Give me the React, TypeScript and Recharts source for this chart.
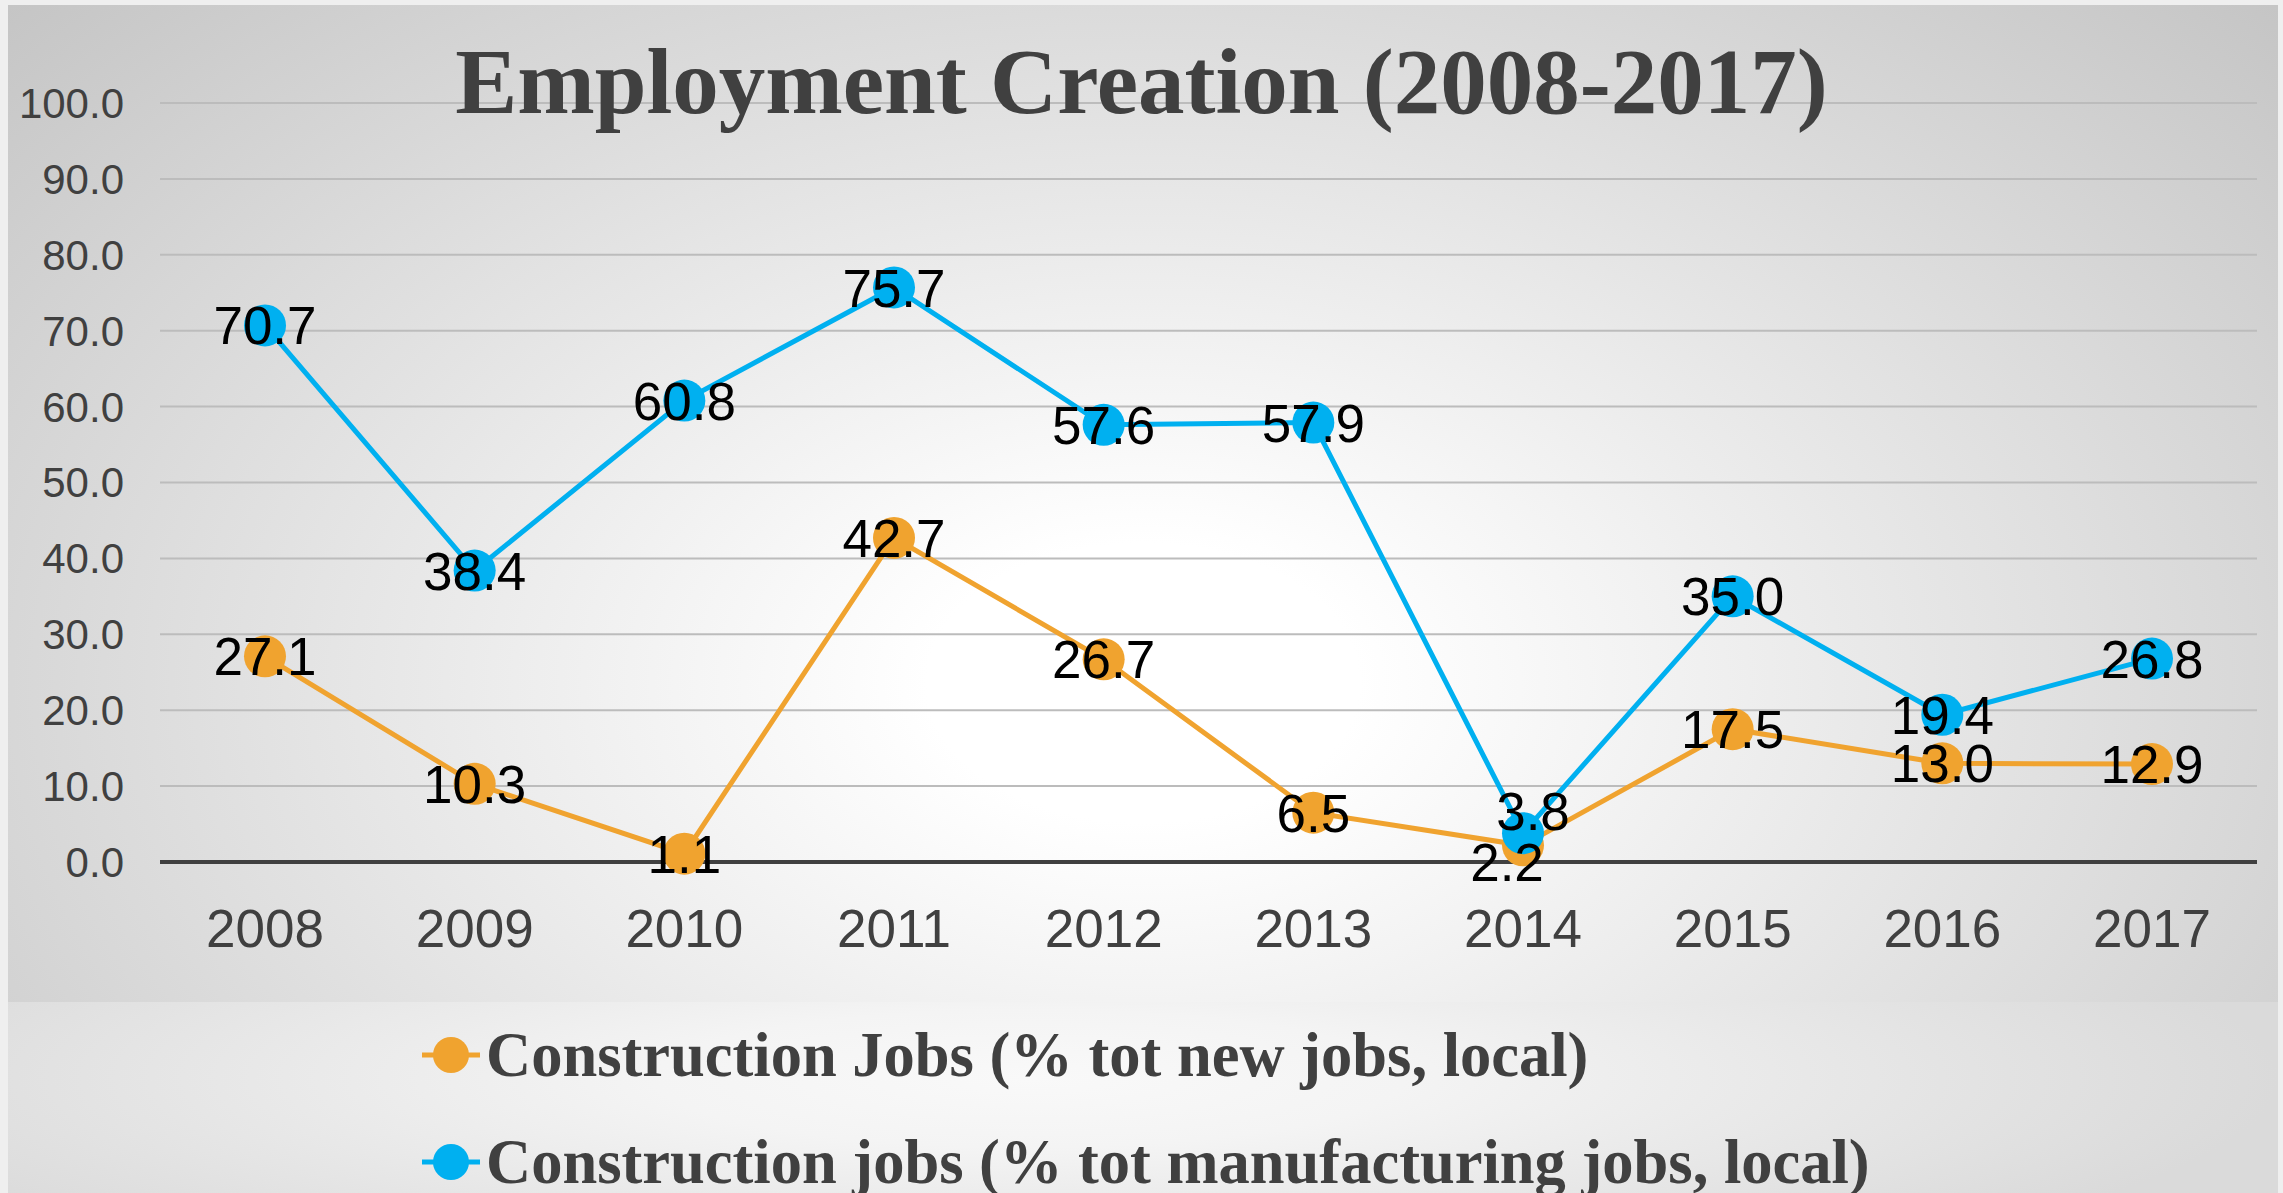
import React from 'react';
import { LineChart, Line, XAxis, YAxis, CartesianGrid, ReferenceLine, LabelList } from 'recharts';

const years = ['2008', '2009', '2010', '2011', '2012', '2013', '2014', '2015', '2016', '2017'];
const constructionNew = [27.1, 10.3, 1.1, 42.7, 26.7, 6.5, 2.2, 17.5, 13.0, 12.9];
const constructionMfg = [70.7, 38.4, 60.8, 75.7, 57.6, 57.9, 3.8, 35.0, 19.4, 26.8];
const yTicks = [0, 10, 20, 30, 40, 50, 60, 70, 80, 90, 100];

const seriesNames = [
  'Construction Jobs (% tot new jobs, local)',
  'Construction jobs (% tot manufacturing jobs, local)',
];

const ORANGE = '#F0A32F';
const BLUE = '#00B0F0';

const data = years.map((year, i) => ({
  year,
  newJobs: constructionNew[i],
  mfgJobs: constructionMfg[i],
}));

// labels that overlap in 2014 are nudged apart, like the original
const nudge: Record<string, Record<number, [number, number]>> = {
  newJobs: { 6: [-16, 17] },
  mfgJobs: { 6: [10, -22] },
};

const makeLabel = (key: string) => (props: any) => {
  const { x, y, value, index } = props;
  const [dx, dy] = nudge[key][index] || [0, 0];
  return (
    <text
      x={x + dx}
      y={y + dy}
      dy="0.36em"
      textAnchor="middle"
      fill="#000"
      fontSize={53}
      fontFamily="'Liberation Sans', Arial, sans-serif"
    >
      {Number(value).toFixed(1)}
    </text>
  );
};

const LegendItem = ({ color, label, top }: { color: string; label: string; top: number }) => (
  <div style={{ position: 'absolute', left: 422, top, height: 60, display: 'flex', alignItems: 'center' }}>
    <svg width={60} height={40} style={{ marginRight: 4 }}>
      <line x1={0} y1={20} x2={58} y2={20} stroke={color} strokeWidth={5} />
      <circle cx={29} cy={20} r={18} fill={color} />
    </svg>
    <span
      style={{
        fontFamily: "'Liberation Serif', 'Times New Roman', serif",
        fontWeight: 'bold',
        fontSize: 62.5,
        color: '#404040',
        whiteSpace: 'nowrap',
      }}
    >
      {label}
    </span>
  </div>
);

export default function App() {
  return (
    <div
      style={{
        position: 'absolute',
        left: 0,
        top: 0,
        width: 2283,
        height: 1193,
        overflow: 'hidden',
        background: '#efefef',
      }}
    >
      <div
        style={{
          position: 'absolute',
          left: 8,
          top: 5,
          width: 2270,
          height: 997,
          background:
            'radial-gradient(ellipse 68% 100% at 50% 68%, #ffffff 0%, #ffffff 14%, #c5c5c5 100%)',
        }}
      />
      <div
        style={{
          position: 'absolute',
          left: 8,
          top: 1002,
          width: 2270,
          height: 191,
          background:
            'radial-gradient(ellipse 55% 120% at 45% 40%, #f9f9f9 0%, #f4f4f4 30%, #dadada 100%)',
        }}
      />
      <LineChart
        width={2283}
        height={1193}
        data={data}
        margin={{ top: 103, right: 26, bottom: 271, left: 0 }}
        style={{ position: 'absolute', left: 0, top: 0 }}
      >
        <CartesianGrid vertical={false} stroke="#bcbcbc" strokeWidth={2} />
        <XAxis
          dataKey="year"
          height={60}
          padding={{ left: 105, right: 105 }}
          axisLine={false}
          tickLine={false}
          tickSize={0}
          tickMargin={47}
          tick={{ fill: '#404040', fontSize: 53, fontFamily: "'Liberation Sans', Arial, sans-serif" }}
        />
        <YAxis
          width={160}
          domain={[0, 100]}
          ticks={yTicks}
          interval={0}
          axisLine={false}
          tickLine={false}
          tickSize={0}
          tickMargin={36}
          tickFormatter={(v: number) => v.toFixed(1)}
          tick={{ fill: '#404040', fontSize: 42, fontFamily: "'Liberation Sans', Arial, sans-serif" }}
        />
        <ReferenceLine y={0} stroke="#404040" strokeWidth={4} />
        <Line
          dataKey="newJobs"
          stroke={ORANGE}
          strokeWidth={5}
          dot={{ r: 21, fill: ORANGE, stroke: 'none' }}
          activeDot={false}
          isAnimationActive={false}
        />
        <Line
          dataKey="mfgJobs"
          stroke={BLUE}
          strokeWidth={5}
          dot={{ r: 21, fill: BLUE, stroke: 'none' }}
          activeDot={false}
          isAnimationActive={false}
        />
        <Line dataKey="newJobs" stroke="none" dot={false} activeDot={false} isAnimationActive={false}>
          <LabelList dataKey="newJobs" content={makeLabel('newJobs')} />
        </Line>
        <Line dataKey="mfgJobs" stroke="none" dot={false} activeDot={false} isAnimationActive={false}>
          <LabelList dataKey="mfgJobs" content={makeLabel('mfgJobs')} />
        </Line>
      </LineChart>
      <div
        style={{
          position: 'absolute',
          left: 0,
          top: 27,
          width: 2283,
          textAlign: 'center',
          fontFamily: "'Liberation Serif', 'Times New Roman', serif",
          fontWeight: 'bold',
          fontSize: 93,
          lineHeight: '110px',
          color: '#404040',
        }}
      >
        Employment Creation (2008-2017)
      </div>
      <LegendItem color={ORANGE} label={seriesNames[0]} top={1025} />
      <LegendItem color={BLUE} label={seriesNames[1]} top={1132} />
    </div>
  );
}
